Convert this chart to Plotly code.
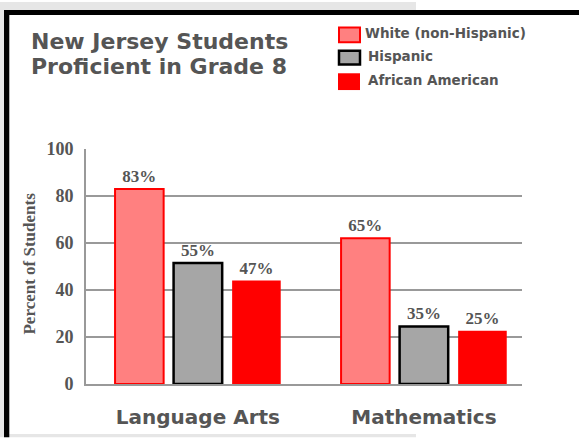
import plotly.graph_objects as go

# ---- data ----
categories = ["Language Arts", "Mathematics"]
series_names = ["White (non-Hispanic)", "Hispanic", "African American"]
white_values = [83, 62]
hispanic_values = [51.5, 24.5]
african_values = [44, 22.7]
white_labels = ["83%", "65%"]
hispanic_labels = ["55%", "35%"]
african_labels = ["47%", "25%"]
y_ticks = [0, 20, 40, 60, 80, 100]
title_lines = ["New Jersey Students", "Proficient in Grade 8"]
y_title = "Percent of Students"

# ---- layout geometry (pixels) ----
WIDTH, HEIGHT = 579, 441
ML, MR, MT, MB = 86, 57, 149, 54
PW = WIDTH - ML - MR
PH = HEIGHT - MT - MB


def px(x):
    return (x - ML) / PW


def py(y):
    return (HEIGHT - MB - y) / PH


GRAY_TXT = "#555555"
SANS = "DejaVu Sans"
SERIF = "Liberation Serif"

fills = ["#ff8080", "#a6a6a6", "#ff0000"]
lines = [dict(color="#ff0000", width=2), dict(color="#000000", width=2.5), dict(color="#ff0000", width=0)]
values = [white_values, hispanic_values, african_values]
labels = [white_labels, hispanic_labels, african_labels]

fig = go.Figure()
for name, vals, labs, fc, ln in zip(series_names, values, labels, fills, lines):
    fig.add_trace(go.Bar(
        x=categories, y=vals, name=name, text=labs,
        textposition="outside", cliponaxis=False,
        textfont=dict(family=SERIF, size=17, color=GRAY_TXT, weight="bold"),
        marker=dict(color=fc, line=ln),
        showlegend=False, hoverinfo="skip",
    ))

shapes = []
# page background strips and black frame
shapes.append(dict(type="rect", xref="paper", yref="paper", x0=px(0), x1=px(4), y0=py(0), y1=py(HEIGHT),
                   fillcolor="#e6e6e6", line=dict(width=0), layer="below"))
shapes.append(dict(type="rect", xref="paper", yref="paper", x0=px(0), x1=px(416), y0=py(0), y1=py(8.3),
                   fillcolor="#e6e6e6", line=dict(width=0), layer="below"))
shapes.append(dict(type="rect", xref="paper", yref="paper", x0=px(4), x1=px(416), y0=py(437.7), y1=py(HEIGHT),
                   fillcolor="#e6e6e6", line=dict(width=0), layer="below"))
shapes.append(dict(type="rect", xref="paper", yref="paper", x0=px(4), x1=px(9.3), y0=py(8.3), y1=py(HEIGHT),
                   fillcolor="#000000", line=dict(width=0), layer="below"))
shapes.append(dict(type="rect", xref="paper", yref="paper", x0=px(4), x1=px(WIDTH), y0=py(8.3), y1=py(13.3),
                   fillcolor="#000000", line=dict(width=0), layer="below"))

# manual legend boxes
legend_boxes = [
    (339, 360, 26, 41, fills[0], dict(color="#ff0000", width=2)),
    (339, 360, 49.5, 63.5, fills[1], dict(color="#000000", width=2.5)),
    (338, 360, 72.3, 89.3, fills[2], dict(width=0)),
]
for x0, x1, y0, y1, fc, ln in legend_boxes:
    shapes.append(dict(type="rect", xref="paper", yref="paper", x0=px(x0), x1=px(x1), y0=py(y1), y1=py(y0),
                       fillcolor=fc, line=ln))

annotations = []
legend_text_pos = [(362.5, 32), (366, 55), (366, 79)]
for name, (lx, ly) in zip(series_names, legend_text_pos):
    annotations.append(dict(xref="paper", yref="paper", x=px(lx), y=py(ly), text=name, showarrow=False,
                            xanchor="left", yanchor="middle",
                            font=dict(family=SANS, size=13.5, color=GRAY_TXT, weight="bold")))

for line_text, ty in zip(title_lines, [40.5, 65.5]):
    annotations.append(dict(xref="paper", yref="paper", x=px(29), y=py(ty), text=line_text, showarrow=False,
                            xanchor="left", yanchor="middle",
                            font=dict(family=SANS, size=22, color=GRAY_TXT, weight="bold")))

annotations.append(dict(xref="paper", yref="paper", x=px(29.5), y=py(265.5), text=y_title, showarrow=False,
                        textangle=-90, xanchor="center", yanchor="middle",
                        font=dict(family=SERIF, size=17, color=GRAY_TXT, weight="bold")))

fig.update_layout(
    width=WIDTH, height=HEIGHT,
    margin=dict(l=ML, r=MR, t=MT, b=MB, pad=0),
    paper_bgcolor="white", plot_bgcolor="white",
    barmode="group", bargap=0.223, bargroupgap=0.17,
    showlegend=False, hovermode=False,
    shapes=shapes, annotations=annotations,
    xaxis=dict(
        type="category", range=[-0.495, 1.434],
        showline=True, linecolor="#999999", linewidth=2,
        showgrid=False, ticks="", ticklabelstandoff=14,
        tickfont=dict(family=SANS, size=20, color=GRAY_TXT, weight="bold"),
    ),
    yaxis=dict(
        range=[0, 100], tickvals=y_ticks,
        showline=True, linecolor="#999999", linewidth=2,
        showgrid=True, gridcolor="#999999", gridwidth=2, zeroline=False,
        ticks="", ticklabelstandoff=7,
        tickfont=dict(family=SERIF, size=18, color=GRAY_TXT, weight="bold"),
    ),
)

fig.write_html(
    "out.html",
    config={"displayModeBar": False, "staticPlot": True},
    post_script="document.body.style.margin='0';document.body.style.overflow='hidden';",
)
